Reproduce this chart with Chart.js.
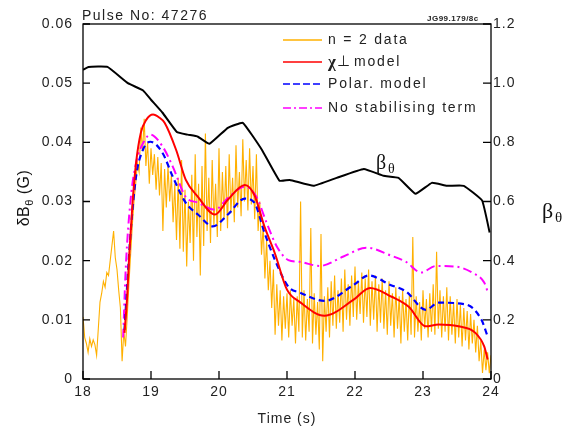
<!DOCTYPE html>
<html><head><meta charset="utf-8">
<script src="https://cdn.jsdelivr.net/npm/chart.js@4/dist/chart.umd.min.js"></script>
<style>html,body{margin:0;padding:0;background:#fff;overflow:hidden}</style>
</head><body>
<div style="width:579px;height:433px"><canvas id="c" width="579" height="433"></canvas></div>
<script>
const xTicks = [18, 19, 20, 21, 22, 23, 24];
const leftTicks = [0, 0.01, 0.02, 0.03, 0.04, 0.05, 0.06];
const rightTicks = [0, 0.2, 0.4, 0.6, 0.8, 1.0, 1.2];

// n = 2 data: sampled every 0.025 s from 18.0 s
const dataT0 = 18.0, dataDt = 0.025;
const dataValues = [
0.0105,0.0070,0.0060,0.0045,0.0068,0.0055,0.0066,0.0058,0.0040,0.0085,
0.0130,0.0145,0.0165,0.0155,0.0180,0.0175,0.0200,0.0225,0.0250,0.0205,
0.0185,0.0150,0.0120,0.0030,0.0080,0.0055,0.0105,0.0160,0.0210,0.0260,
0.0300,0.0330,0.0365,0.0350,0.0425,0.0385,0.0440,0.0360,0.0400,0.0330,
0.0390,0.0345,0.0380,0.0320,0.0375,0.0310,0.0365,0.0250,0.0355,0.0290,
0.0360,0.0300,0.0345,0.0265,0.0330,0.0235,0.0340,0.0220,0.0370,0.0215,
0.0320,0.0190,0.0300,0.0230,0.0345,0.0200,0.0380,0.0240,0.0330,0.0175,
0.0360,0.0225,0.0415,0.0250,0.0340,0.0230,0.0370,0.0260,0.0330,0.0240,
0.0390,0.0250,0.0350,0.0270,0.0360,0.0255,0.0380,0.0280,0.0340,0.0265,
0.0395,0.0290,0.0350,0.0275,0.0405,0.0300,0.0370,0.0285,0.0390,0.0295,
0.0360,0.0270,0.0380,0.0250,0.0300,0.0210,0.0260,0.0170,0.0235,0.0150,
0.0200,0.0120,0.0185,0.0075,0.0160,0.0090,0.0150,0.0065,0.0140,0.0085,
0.0145,0.0070,0.0150,0.0090,0.0135,0.0060,0.0140,0.0080,0.0300,0.0070,
0.0150,0.0065,0.0135,0.0080,0.0255,0.0060,0.0145,0.0075,0.0130,0.0050,
0.0245,0.0030,0.0140,0.0080,0.0155,0.0070,0.0165,0.0090,0.0175,0.0085,
0.0150,0.0095,0.0170,0.0080,0.0185,0.0100,0.0160,0.0090,0.0175,0.0105,
0.0190,0.0100,0.0165,0.0110,0.0180,0.0095,0.0170,0.0105,0.0185,0.0090,
0.0165,0.0100,0.0175,0.0080,0.0160,0.0095,0.0170,0.0085,0.0150,0.0075,
0.0165,0.0090,0.0145,0.0070,0.0155,0.0085,0.0140,0.0060,0.0150,0.0080,
0.0135,0.0065,0.0145,0.0075,0.0240,0.0070,0.0140,0.0080,0.0130,0.0065,
0.0150,0.0085,0.0135,0.0070,0.0145,0.0080,0.0160,0.0075,0.0215,0.0085,
0.0150,0.0070,0.0140,0.0080,0.0155,0.0065,0.0140,0.0075,0.0130,0.0060,
0.0135,0.0070,0.0125,0.0055,0.0120,0.0065,0.0115,0.0050,0.0110,0.0060,
0.0100,0.0045,0.0090,0.0030,0.0065,0.0010,0.0050,0.0015,0.0045,0.0010,
0.0040
];

const chiT = [18.61,18.65,18.68,18.73,18.78,18.85,18.93,19.03,19.12,19.2,19.37,19.51,19.69,19.94,20.13,20.38,20.52,20.67,20.82,21.0,21.19,21.55,21.98,22.22,22.54,22.79,23.04,23.23,23.52,23.77,23.9,23.95];
const chiV = [0.0078,0.014,0.021,0.030,0.0365,0.0416,0.0438,0.0447,0.0442,0.0433,0.0387,0.0337,0.0308,0.0278,0.0303,0.0328,0.0311,0.0257,0.0213,0.0151,0.013,0.0107,0.0134,0.0154,0.0139,0.0122,0.0089,0.0092,0.0089,0.0078,0.0055,0.0033];

const polarT = [18.61,18.7,18.78,18.88,18.99,19.17,19.32,19.51,19.69,19.91,20.13,20.38,20.52,20.67,20.82,21.02,21.19,21.55,21.98,22.2,22.52,22.75,23.04,23.23,23.63,23.86,23.95];
const polarV = [0.0083,0.0247,0.0342,0.0387,0.0401,0.0382,0.0342,0.0298,0.0278,0.0258,0.0278,0.0305,0.0298,0.0247,0.0202,0.0156,0.0146,0.0132,0.0159,0.0175,0.0159,0.0148,0.0117,0.0129,0.0126,0.010,0.0072];

const noStabT = [18.59,18.63,18.7,18.78,18.91,18.99,19.17,19.32,19.51,19.69,19.94,20.13,20.38,20.55,20.7,20.85,21.02,21.19,21.48,21.83,22.17,22.52,22.75,22.97,23.19,23.48,23.72,23.9,23.95];
const noStabV = [0.007,0.019,0.0303,0.0365,0.0404,0.0413,0.0393,0.0359,0.0308,0.0298,0.0286,0.0306,0.0325,0.0308,0.0264,0.0224,0.0201,0.0198,0.0191,0.0207,0.0222,0.0209,0.0198,0.018,0.0191,0.019,0.018,0.0163,0.0148];

const betaT = [18.0,18.08,18.36,18.66,18.88,19.0,19.17,19.38,19.54,19.69,19.86,20.13,20.35,20.63,20.89,21.04,21.39,21.73,22.13,22.42,22.64,22.89,23.13,23.35,23.6,23.87,23.98];
const betaV = [1.045,1.055,1.055,1.0,0.976,0.944,0.9,0.835,0.826,0.819,0.795,0.849,0.866,0.775,0.67,0.673,0.653,0.68,0.71,0.687,0.68,0.626,0.663,0.653,0.653,0.603,0.495];

const pts = (t, v) => t.map((x, i) => ({x, y: v[i]}));
const dataPts = dataValues.map((v, i) => ({x: dataT0 + i * dataDt, y: v}));

const ORANGE = '#ffb000', RED = '#ff0000', BLUE = '#0000ff', MAG = '#ff00ff';
const SANS = '"Liberation Sans", Arial, sans-serif';
const SERIF = '"Liberation Serif", "Times New Roman", serif';

const deco = {
  id: 'deco',
  beforeDraw(chart) { chart.ctx.letterSpacing = '1px'; },
  afterDraw(chart) {
    const ctx = chart.ctx, a = chart.chartArea;
    const sx = chart.scales.x, sy = chart.scales.y, sy2 = chart.scales.y2;
    ctx.save();
    ctx.strokeStyle = '#000'; ctx.lineWidth = 1.3;
    ctx.strokeRect(a.left, a.top, a.right - a.left, a.bottom - a.top);
    ctx.beginPath();
    xTicks.forEach(v => { const p = sx.getPixelForValue(v); ctx.moveTo(p, a.bottom); ctx.lineTo(p, a.bottom - 8); });
    leftTicks.forEach(v => { const p = sy.getPixelForValue(v); ctx.moveTo(a.left, p); ctx.lineTo(a.left + 7, p); });
    rightTicks.forEach(v => { const p = sy2.getPixelForValue(v); ctx.moveTo(a.right, p); ctx.lineTo(a.right - 8, p); });
    ctx.stroke();

    ctx.fillStyle = '#222';
    ctx.textBaseline = 'alphabetic'; ctx.textAlign = 'left';
    ctx.letterSpacing = '1.5px';
    ctx.font = '14px ' + SANS;
    ctx.fillText('Pulse No: 47276', 82, 20);
    ctx.letterSpacing = '0.5px';
    ctx.font = 'bold 8px ' + SANS;
    ctx.fillText('JG99.179/8c', 427, 21);

    // legend
    const rows = [40, 62, 84, 108];
    const lx0 = 283, lx1 = 322, tx = 328;
    const drawSample = (y, color, dash, w) => {
      ctx.save(); ctx.strokeStyle = color; ctx.lineWidth = w; ctx.setLineDash(dash);
      ctx.beginPath(); ctx.moveTo(lx0, y); ctx.lineTo(lx1, y); ctx.stroke(); ctx.restore();
    };
    drawSample(rows[0], ORANGE, [], 1.5);
    drawSample(rows[1], RED, [], 1.5);
    drawSample(rows[2], BLUE, [7, 3], 1.5);
    drawSample(rows[3], MAG, [8, 3, 2, 3], 1.5);
    ctx.textBaseline = 'middle';
    ctx.letterSpacing = '1.8px';
    ctx.font = '14px ' + SANS;
    ctx.fillText('n = 2 data', tx, rows[0]);
    ctx.font = 'bold 17px ' + SERIF;
    ctx.letterSpacing = '0px';
    ctx.fillText('\u03c7', tx, rows[1] + 1);
    ctx.font = '15px ' + SANS;
    ctx.fillText('\u22a5', tx + 9, rows[1]);
    ctx.letterSpacing = '1.8px';
    ctx.font = '14px ' + SANS;
    ctx.fillText('model', tx + 26, rows[1]);
    ctx.fillText('Polar. model', tx, rows[2]);
    ctx.fillText('No stabilising term', tx, rows[3]);

    // beta labels
    ctx.letterSpacing = '0px';
    ctx.textBaseline = 'alphabetic';
    ctx.fillStyle = '#111';
    ctx.font = '20px ' + SERIF;
    ctx.fillText('\u03b2', 376, 169);
    ctx.font = '14px ' + SERIF;
    ctx.fillText('\u03b8', 388, 173);
    ctx.font = '22px ' + SERIF;
    ctx.fillText('\u03b2', 542, 218);
    ctx.font = '15px ' + SERIF;
    ctx.fillText('\u03b8', 555, 222);

    // left axis title
    ctx.save();
    ctx.translate(25, 198);
    ctx.rotate(-Math.PI / 2);
    ctx.letterSpacing = '0.5px';
    ctx.font = '16px ' + SANS;
    const w1 = ctx.measureText('\u03b4B').width;
    ctx.font = '11px ' + SANS;
    const w2 = ctx.measureText('\u03b8').width;
    ctx.font = '16px ' + SANS;
    const w3 = ctx.measureText(' (G)').width;
    let x = -(w1 + w2 + w3) / 2;
    ctx.textBaseline = 'middle';
    ctx.fillText('\u03b4B', x, 0); x += w1;
    ctx.font = '11px ' + SANS;
    ctx.fillText('\u03b8', x, 5); x += w2;
    ctx.font = '16px ' + SANS;
    ctx.fillText(' (G)', x, 0);
    ctx.restore();
    ctx.restore();
  }
};

new Chart(document.getElementById('c'), {
  type: 'line',
  data: {
    datasets: [
      {label: 'chi', data: pts(chiT, chiV), borderColor: RED, borderWidth: 2, cubicInterpolationMode: 'monotone', pointRadius: 0, yAxisID: 'y', order: 1},
      {label: 'polar', data: pts(polarT, polarV), borderColor: BLUE, borderWidth: 2.2, borderDash: [6, 4], cubicInterpolationMode: 'monotone', pointRadius: 0, yAxisID: 'y', order: 2},
      {label: 'nostab', data: pts(noStabT, noStabV), borderColor: MAG, borderWidth: 2, borderDash: [9, 4, 2, 4], cubicInterpolationMode: 'monotone', pointRadius: 0, yAxisID: 'y', order: 3},
      {label: 'beta', data: pts(betaT, betaV), borderColor: '#000', borderWidth: 2, tension: 0.1, pointRadius: 0, yAxisID: 'y2', order: 4},
      {label: 'data', data: dataPts, borderColor: ORANGE, borderWidth: 1.1, tension: 0, pointRadius: 0, yAxisID: 'y', order: 5}
    ]
  },
  options: {
    responsive: false,
    animation: false,
    devicePixelRatio: 1,
    layout: {padding: {top: 24, left: 0, right: 0, bottom: 0}},
    plugins: {legend: {display: false}, tooltip: {enabled: false}},
    scales: {
      x: {
        type: 'linear', min: 18, max: 24,
        afterBuildTicks: s => { s.ticks = xTicks.map(v => ({value: v})); },
        grid: {display: false, drawTicks: false}, border: {display: false},
        ticks: {color: '#222', font: {size: 14, family: SANS}, padding: 5, maxRotation: 0},
        title: {display: true, text: 'Time (s)', color: '#222', font: {size: 14, family: SANS}, padding: {top: 0, bottom: 5}},
        afterFit: s => { s.height = 54; }
      },
      y: {
        type: 'linear', position: 'left', min: 0, max: 0.06,
        afterBuildTicks: s => { s.ticks = leftTicks.map(v => ({value: v})); },
        grid: {display: false, drawTicks: false}, border: {display: false},
        ticks: {color: '#222', font: {size: 14, family: SANS}, padding: 10, callback: v => v === 0 ? '0' : v.toFixed(2)},
        afterFit: s => { s.width = 83; }
      },
      y2: {
        type: 'linear', position: 'right', min: 0, max: 1.2,
        afterBuildTicks: s => { s.ticks = rightTicks.map(v => ({value: v})); },
        grid: {display: false, drawTicks: false}, border: {display: false},
        ticks: {color: '#222', font: {size: 14, family: SANS}, padding: 2, callback: v => v === 0 ? '0' : v.toFixed(1)},
        afterFit: s => { s.width = 88; }
      }
    }
  },
  plugins: [deco]
});
</script>
</body></html>
